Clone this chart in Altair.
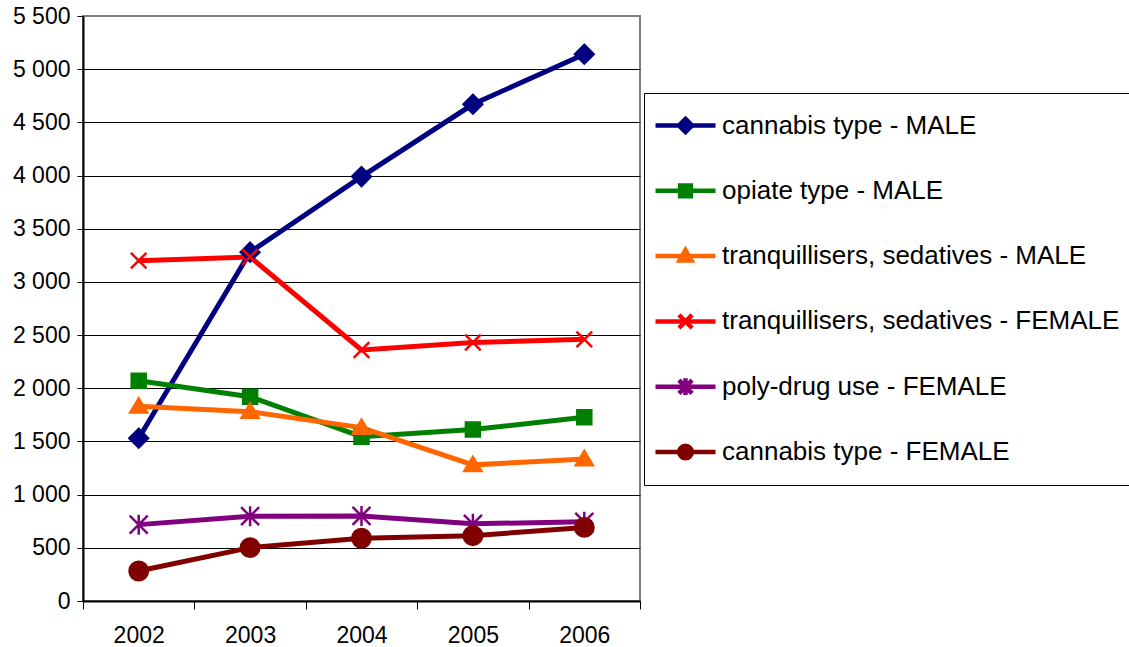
import altair as alt
import pandas as pd

# Data: treatment demand by primary drug and sex
years = ["2002", "2003", "2004", "2005", "2006"]

series_names = [
    "cannabis type - MALE",
    "opiate type - MALE",
    "tranquillisers, sedatives - MALE",
    "tranquillisers, sedatives - FEMALE",
    "poly-drug use - FEMALE",
    "cannabis type - FEMALE",
]

cannabis_male = [1530, 3280, 3990, 4670, 5140]
opiate_male = [2070, 1920, 1545, 1612, 1727]
tranq_male = [1830, 1780, 1630, 1280, 1335]
tranq_female = [3200, 3235, 2360, 2430, 2460]
polydrug_female = [718, 797, 800, 726, 745]
cannabis_female = [282, 502, 590, 614, 692]

series_values = [
    cannabis_male,
    opiate_male,
    tranq_male,
    tranq_female,
    polydrug_female,
    cannabis_female,
]

colors = ["#000080", "#008000", "#FF6600", "#FF0000", "#800080", "#800000"]

# Marker glyphs drawn on the data points (unit box, all drawn at one size)
marker_shapes = [
    "M0,-0.93L0.93,0L0,0.93L-0.93,0Z",
    "M-0.7,-0.7L0.7,-0.7L0.7,0.7L-0.7,0.7Z",
    "M0,-0.8L0.85,0.62L-0.85,0.62Z",
    "M-0.78,-0.78L0.78,0.78M-0.78,0.78L0.78,-0.78",
    "M-0.9,-0.9L0.9,0.9M-0.9,0.9L0.9,-0.9M0,-1L0,1",
    "M-0.92,0A0.92,0.92 0 1,0 0.92,0A0.92,0.92 0 1,0 -0.92,0Z",
]

# Legend glyphs: a short line segment with the marker at its middle
legend_shapes = [
    "M-1,0L1,0M0,-0.22L0.22,0L0,0.22L-0.22,0Z",
    "M-1,0L1,0M-0.18,-0.18L0.18,-0.18L0.18,0.18L-0.18,0.18Z",
    "M-1,0L1,0M0,-0.2L0.2,0.15L-0.2,0.15Z",
    "M-1,0L1,0M-0.22,-0.22L0.22,0.22M-0.22,0.22L0.22,-0.22",
    "M-1,0L1,0M-0.22,-0.22L0.22,0.22M-0.22,0.22L0.22,-0.22M0,-0.28L0,0.28",
    "M-1,0L1,0M-0.21,0A0.21,0.21 0 1,0 0.21,0A0.21,0.21 0 1,0 -0.21,0Z",
]

rows = []
for name, vals in zip(series_names, series_values):
    for yr, v in zip(years, vals):
        rows.append({"year": yr, "value": v, "series": name})
df = pd.DataFrame(rows)

FONT = "Liberation Sans"

x_enc = alt.X(
    "year:O",
    scale=alt.Scale(type="band", paddingInner=0, paddingOuter=0, domain=years),
    axis=alt.Axis(
        title=None,
        labelAngle=0,
        labelFont=FONT,
        labelFontSize=23,
        labelColor="black",
        labelPadding=15,
        tickBand="extent",
        tickSize=8,
        tickColor="black",
        tickWidth=1,
        domainColor="black",
        domainWidth=2,
        grid=False,
    ),
)

y_enc = alt.Y(
    "value:Q",
    scale=alt.Scale(domain=[0, 5500], nice=False),
    axis=alt.Axis(
        title=None,
        values=list(range(0, 5501, 500)),
        labelExpr="replace(format(datum.value, ','), ',', ' ')",
        labelFont=FONT,
        labelFontSize=23,
        labelColor="black",
        labelPadding=7,
        tickSize=6,
        tickColor="black",
        tickWidth=1,
        domainColor="black",
        domainWidth=2,
        grid=True,
        gridColor={
            "condition": {"test": "datum.value == 5500", "value": "transparent"},
            "value": "black",
        },
        gridWidth=1,
    ),
)

base = alt.Chart(df)

lines = base.mark_line(strokeWidth=5).encode(
    x=x_enc,
    y=y_enc,
    color=alt.Color(
        "series:N",
        scale=alt.Scale(domain=series_names, range=colors),
        legend=None,
    ),
    order=alt.Order("year:O"),
)

points = base.mark_point(opacity=1, strokeWidth=2.5, size=400).encode(
    x=x_enc,
    y=y_enc,
    fill=alt.Fill(
        "series:N", scale=alt.Scale(domain=series_names, range=colors), legend=None
    ),
    stroke=alt.Stroke(
        "series:N", scale=alt.Scale(domain=series_names, range=colors), legend=None
    ),
    shape=alt.Shape(
        "series:N",
        scale=alt.Scale(domain=series_names, range=marker_shapes),
        legend=None,
    ),
)

legend_def = alt.Legend(
    title=None,
    orient="none",
    legendX=561,
    legendY=77,
    direction="vertical",
    labelFont=FONT,
    labelFontSize=26,
    labelColor="black",
    labelLimit=0,
    labelOffset=4,
    symbolSize=3600,
    symbolStrokeWidth=4.5,
    clipHeight=47,
    rowPadding=18.3,
    padding=9,
    strokeColor="black",
)

legend_layer = (
    base.transform_filter("false")
    .mark_point(opacity=1, size=3600)
    .encode(
        x=x_enc,
        y=y_enc,
        fill=alt.Fill(
            "series:N",
            scale=alt.Scale(domain=series_names, range=colors),
            legend=legend_def,
        ),
        stroke=alt.Stroke(
            "series:N",
            scale=alt.Scale(domain=series_names, range=colors),
            legend=legend_def,
        ),
        shape=alt.Shape(
            "series:N",
            scale=alt.Scale(domain=series_names, range=legend_shapes),
            legend=legend_def,
        ),
    )
)

chart = (
    alt.layer(lines, points, legend_layer)
    .resolve_scale(shape="independent", fill="independent", stroke="independent")
    .properties(
        width=557,
        height=585,
        autosize=alt.AutoSizeParams(type="none"),
        padding={"left": 83, "top": 16, "right": 489, "bottom": 46},
        background="white",
    )
    .configure_view(stroke="#808080", strokeWidth=2)
)

chart.save("out.html", embed_options={"renderer": "svg", "actions": False})
